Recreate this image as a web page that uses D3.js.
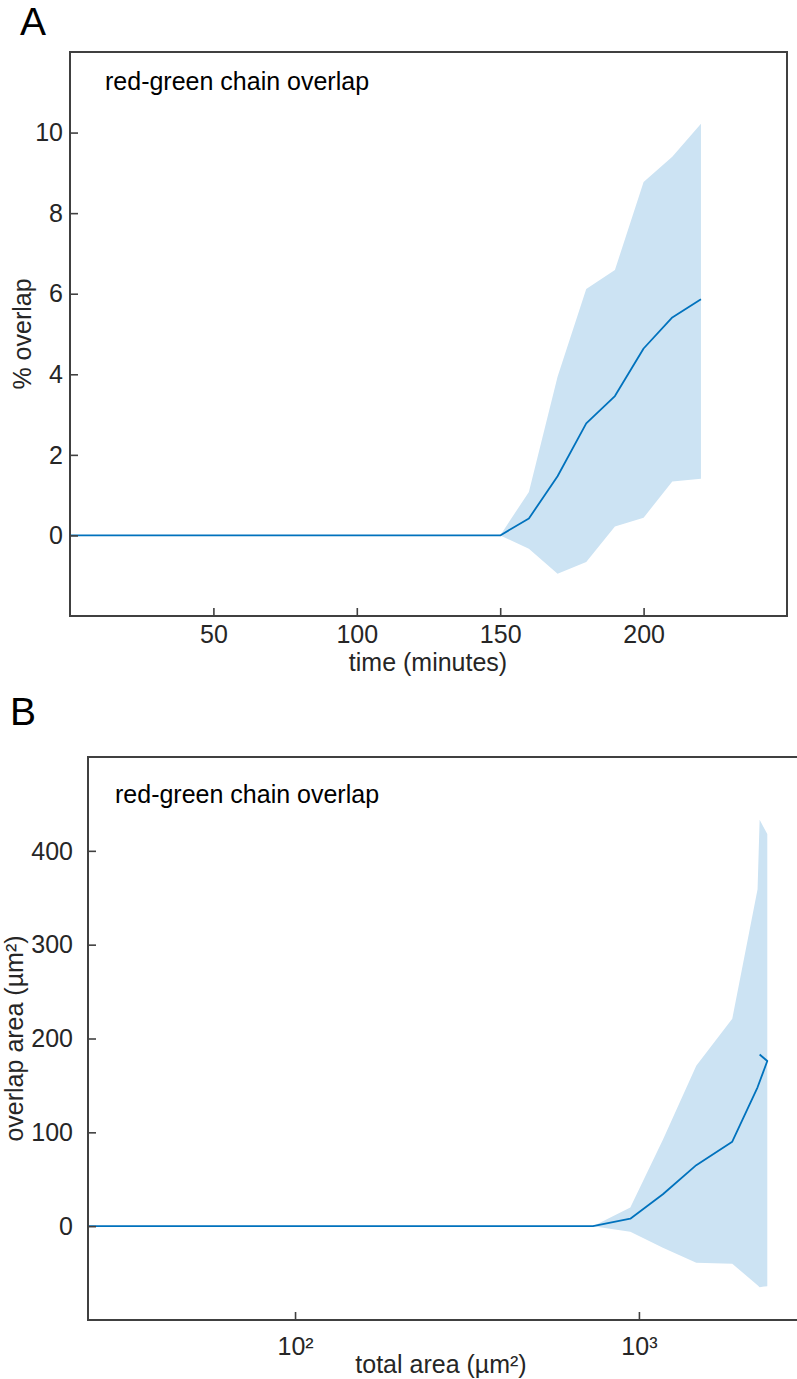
<!DOCTYPE html>
<html><head><meta charset="utf-8">
<script src="https://cdn.jsdelivr.net/npm/d3@7"></script>
<style>
body{margin:0;background:#fff}
text{font-family:"Liberation Sans",Arial,Helvetica,sans-serif}
</style>
</head><body>
<svg id="c" width="797" height="1379"></svg>
<script>
// ---------- Panel A data ----------
const timeMin = [0,10,20,30,40,50,60,70,80,90,100,110,120,130,140,150,160,170,180,190,200,210,220];
const overlapMean  = [0,0,0,0,0,0,0,0,0,0,0,0,0,0,0,0,0.42,1.47,2.78,3.46,4.64,5.41,5.86];
const overlapUpper = [0,0,0,0,0,0,0,0,0,0,0,0,0,0,0,0,1.08,3.94,6.12,6.59,8.77,9.40,10.22];
const overlapLower = [0,0,0,0,0,0,0,0,0,0,0,0,0,0,0,0,-0.33,-0.95,-0.66,0.22,0.44,1.34,1.41];
const ticksAx = [50,100,150,200];
const ticksAy = [0,2,4,6,8,10];

// ---------- Panel B data ----------
const areaMeanX = [25,735,944,1174,1468,1868,2213,2362,2244];
const areaMeanY = [0,0,8,34,65,90,148,176,183];
const bandX     = [25,735,944,1174,1468,1868,2213,2244,2362];
const bandUpper = [0,0,20,92,171,221,359,433,418];
const bandLower = [0,0,-6,-23,-39,-40,-63,-65,-64];
const ticksBx = [100,1000];
const ticksBxLabels = ["10\u00B2","10\u00B3"];
const ticksBy = [0,100,200,300,400];

const titleText = "red-green chain overlap";
const lineColor = "#0072BD";
const bandColor = "#CCE3F3";
const axisColor = "#404040";
const textColor = "#262626";
const FS = 25;

const svg = d3.select("#c");

function panel(o){
  const g = svg.append("g");
  g.append("path").datum(o.band)
    .attr("fill", bandColor).attr("stroke","none")
    .attr("d", d3.area().x(d=>o.x(d[0])).y0(d=>o.y(d[2])).y1(d=>o.y(d[1])));
  g.append("path").datum(o.line)
    .attr("fill","none").attr("stroke", lineColor).attr("stroke-width",1.8)
    .attr("stroke-linejoin","round")
    .attr("d", d3.line().x(d=>o.x(d[0])).y(d=>o.y(d[1])));
  const [x0,x1] = o.x.range(), [y0,y1] = o.y.range();
  const ax = g.append("g").attr("transform",`translate(0,${y0})`)
    .call(d3.axisBottom(o.x).tickValues(o.xt).tickFormat(o.xf).tickSize(-8));
  ax.select(".domain").remove();
  ax.selectAll("line").attr("stroke",axisColor).attr("stroke-width",1.6);
  ax.selectAll("text").attr("y",o.xly).attr("dy",0).attr("fill",textColor)
    .style("font-size",FS+"px");
  const ay = g.append("g").attr("transform",`translate(${x0},0)`)
    .call(d3.axisLeft(o.y).tickValues(o.yt).tickSize(-8));
  ay.select(".domain").remove();
  ay.selectAll("line").attr("stroke",axisColor).attr("stroke-width",1.6);
  ay.selectAll("text").attr("x",-o.ylx).attr("dy","0.33em").attr("fill",textColor)
    .style("font-size",FS+"px");
  g.append("rect").attr("x",x0).attr("y",y1).attr("width",x1-x0).attr("height",y0-y1)
    .attr("fill","none").attr("stroke",axisColor).attr("stroke-width",2);
  g.append("text").attr("x",o.tx).attr("y",o.ty).attr("fill","#000")
    .style("font-size",FS+"px").text(titleText);
  g.append("text").attr("x",o.xlabX).attr("y",o.xlabY).attr("text-anchor","middle")
    .attr("fill",textColor).style("font-size",FS+"px").text(o.xlab);
  g.append("text").attr("transform",`translate(${o.ylabX},${(y0+y1)/2}) rotate(-90)`)
    .attr("text-anchor","middle").attr("fill",textColor).style("font-size",FS+"px").text(o.ylab);
  g.append("text").attr("x",o.lx).attr("y",o.ly).attr("fill","#000")
    .style("font-size","39px").text(o.letter);
}

// Panel A
const xA = d3.scaleLinear().domain([0,250]).range([70,787]);
const yA = d3.scaleLinear().domain([-2,12]).range([616,52]);
panel({
  x:xA, y:yA,
  band: timeMin.map((t,i)=>[t,overlapUpper[i],overlapLower[i]]),
  line: timeMin.map((t,i)=>[t,overlapMean[i]]),
  xt: ticksAx, xf: d3.format("d"), yt: ticksAy,
  xly: 27, ylx: 7,
  tx:105, ty:90, xlab:"time (minutes)", xlabX:428, xlabY:671, ylab:"% overlap", ylabX:31,
  letter:"A", lx:20, ly:35
});

// Panel B
const xB = d3.scaleLog().domain([25,3000]).range([88,803]);
const yB = d3.scaleLinear().domain([-100,500]).range([1320,757]);
panel({
  x:xB, y:yB,
  band: bandX.map((t,i)=>[t,bandUpper[i],bandLower[i]]),
  line: areaMeanX.map((t,i)=>[t,areaMeanY[i]]),
  xt: ticksBx, xf: (d,i)=>ticksBxLabels[i], yt: ticksBy,
  xly: 35, ylx: 15,
  tx:115, ty:803, xlab:"total area (\u00B5m\u00B2)", xlabX:441, xlabY:1373, ylab:"overlap area (\u00B5m\u00B2)", ylabX:23,
  letter:"B", lx:10, ly:725
});
</script>
</body></html>
